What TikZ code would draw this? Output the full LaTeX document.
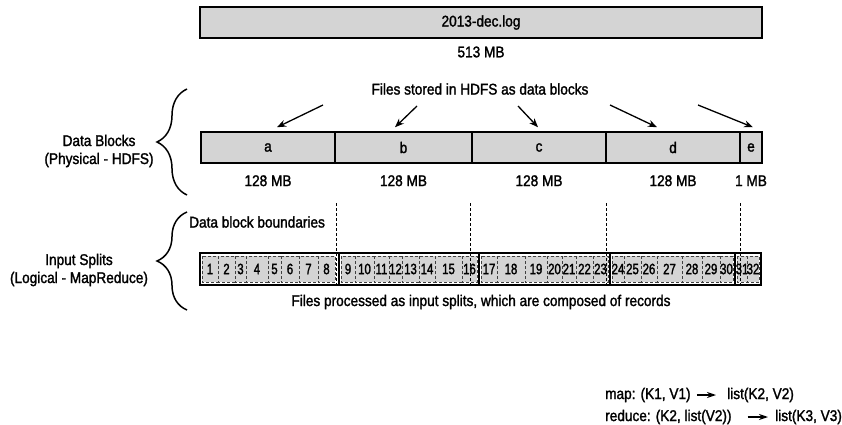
\documentclass[tikz,border=0pt]{standalone}
\usepackage{fontspec}
\setmainfont{Liberation Sans}[FakeStretch=0.88, FakeBold=1.6]
\newfontfamily\recfont{Liberation Sans}[FakeStretch=0.76, FakeBold=1.6]
\usetikzlibrary{arrows.meta,calc,positioning,decorations.pathreplacing}

\tikzset{
  blockbox/.style={draw, line width=1.5pt, fill=black!17, minimum height=31pt, inner sep=0pt, font=\fontsize{15.5}{18}\selectfont},
  plaintext/.style={font=\fontsize{15.5}{18}\selectfont, inner sep=1pt, align=center},
  storeptr/.style={-{Stealth[length=9pt,width=7pt]}, line width=1.3pt},
  funcptr/.style={-{Stealth[length=9pt,width=6pt]}, line width=1.2pt, shorten <=6pt, shorten >=11pt},
  record/.style={draw=black!75, densely dashed, line width=0.7pt, fill=black!17},
  recnum/.style={font=\recfont\fontsize{15}{16}\selectfont, inner sep=0pt},
  boundary/.style={densely dashed, line width=0.8pt},
  groupline/.style={line width=1.5pt},
  sidebrace/.style={decorate, decoration={brace, amplitude=30pt}, line width=1.5pt},
}

\begin{document}
\begin{tikzpicture}[x=1pt, y=-1pt]
  \useasboundingbox (0,0) rectangle (842,425);

  % whole file
  \node[blockbox, minimum width=562pt] (logfile) at (481,22.5) {2013-dec.log};
  \node[plaintext] (logsize) at (481,52) {513 MB};

  % data blocks
  \node[plaintext] (storedtxt) at (480,89) {Files stored in HDFS as data blocks};
  \foreach \n/\l/\r in {a/201/335, b/335/472, c/472/606, d/606/740, e/740/762}
    \node[blockbox, minimum width={(\r-\l)*1pt}] (\n) at ({(\l+\r)/2},147.5) {\n};
  \foreach \n/\s in {a/128 MB, b/128 MB, c/128 MB, d/128 MB, e/1 MB}
    \node[plaintext] (\n size) at ([yshift=-17pt]\n.south) {\s};
  \foreach \n/\sx/\sy/\dx in {a/323/105/9, b/417/106/-8.5, c/518/106/-1, d/610/105/-16, e/698/105/2} {
    \coordinate (from\n) at (\sx,\sy);
    \draw[storeptr] (from\n) -- ([xshift=\dx pt,yshift=4pt]\n.north);
  }

  \draw[sidebrace] (187,195) -- (187,89);
  \node[plaintext] (physlabel) at (99,151) {Data Blocks\\(Physical - HDFS)};

  % input splits
  \node[plaintext, anchor=west] (boundtxt) at (188,222) {Data block boundaries};
  \foreach \n/\l/\r in {1/202/218, 2/218/235, 3/235/246, 4/246/268, 5/268/281, 6/281/299,
      7/299/318, 8/318/335, 9/341/355, 10/355/374, 11/374/389, 12/389/402, 13/402/419,
      14/419/435, 15/435/462, 16/462/477, 17/481/497, 18/497/525, 19/525/547, 20/547/562,
      21/562/576, 22/576/593, 23/593/608, 24/612/624, 25/624/641, 26/641/657, 27/657/682,
      28/682/702, 29/702/720, 30/720/733, 31/737/747, 32/747/759} {
    \draw[record] (\l,256) rectangle (\r,282);
    \node[recnum] (rec\n) at ({(\l+\r)/2},269) {\n};
  }
  \node[draw, line width=1.5pt, minimum width=561pt, minimum height=32pt, inner sep=0pt] (splitbar) at (480.5,269) {};
  \foreach \x in {339,479,610,735}
    \draw[groupline] (\x,253) -- (\x,285);
  \foreach \x in {336,470,606,740}
    \draw[boundary] (\x,203) -- (\x,285);
  \node[plaintext] (splittxt) at (481,302) {Files processed as input splits, which are composed of records};

  \draw[sidebrace] (187,310) -- (187,212);
  \node[plaintext] (logilabel) at (79,270) {Input Splits\\(Logical - MapReduce)};

  % map and reduce
  \node[plaintext, anchor=west, inner sep=0pt] (mapin) at (605,395) {map: (K1, V1)};
  \node[plaintext, anchor=west, inner sep=0pt] (mapout) at (727,395) {list(K2, V2)};
  \draw[funcptr] (mapin) -- (mapout);
  \node[plaintext, anchor=west, inner sep=0pt] (redin) at (605,417) {reduce: (K2, list(V2))};
  \node[plaintext, anchor=west, inner sep=0pt] (redout) at (775,417) {list(K3, V3)};
  \draw[funcptr, shorten <=16pt, shorten >=7pt] (redin) -- (redout);
\end{tikzpicture}
\end{document}
